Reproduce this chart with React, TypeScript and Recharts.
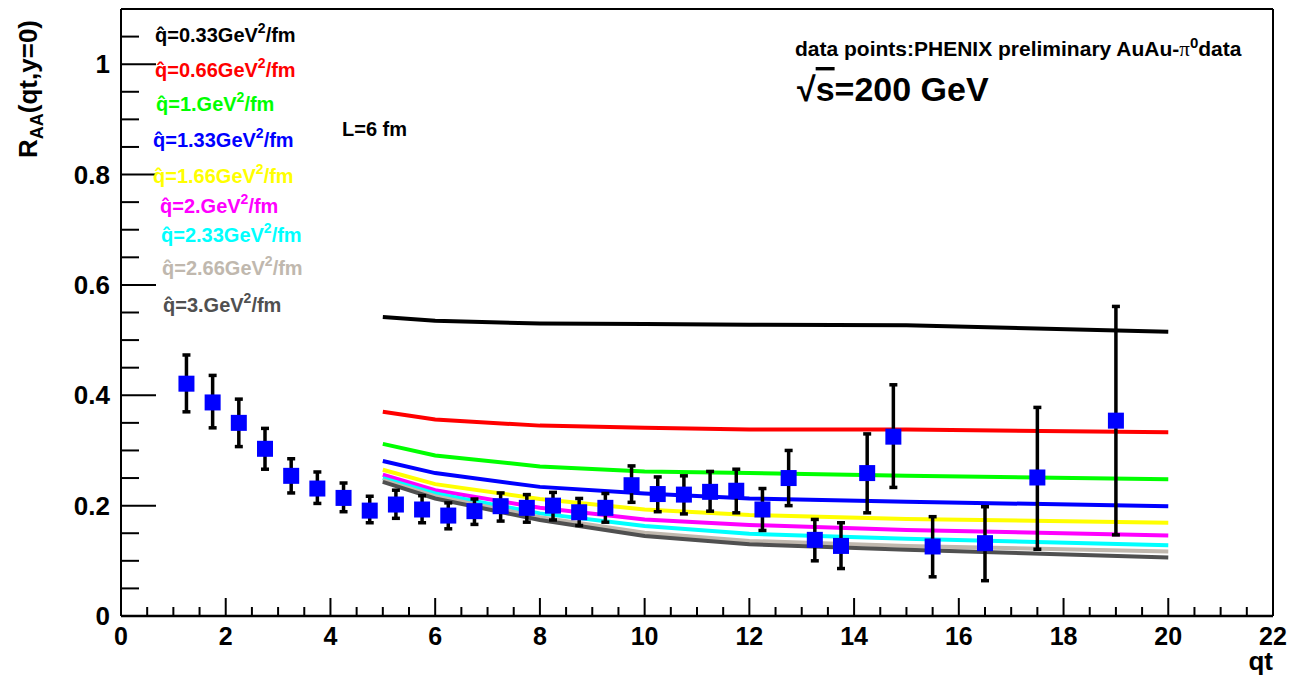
import React from "react";
import { ComposedChart, Line, Scatter, ErrorBar, XAxis, YAxis, ReferenceLine } from "recharts";

// PHENIX preliminary AuAu pi0 points
const ptQt = [1.25, 1.75, 2.25, 2.75, 3.25, 3.75, 4.25, 4.75, 5.25, 5.75, 6.25, 6.75, 7.25, 7.75, 8.25, 8.75, 9.25, 9.75, 10.25, 10.75, 11.25, 11.75, 12.25, 12.75, 13.25, 13.75, 14.25, 14.75, 15.5, 16.5, 17.5, 19];
const ptRaa = [0.421, 0.387, 0.35, 0.303, 0.254, 0.231, 0.214, 0.191, 0.202, 0.193, 0.182, 0.19, 0.199, 0.196, 0.2, 0.188, 0.196, 0.237, 0.221, 0.22, 0.225, 0.227, 0.193, 0.25, 0.138, 0.127, 0.259, 0.325, 0.126, 0.132, 0.251, 0.354];
const ptHi = [0.473, 0.436, 0.393, 0.34, 0.285, 0.261, 0.241, 0.217, 0.228, 0.218, 0.205, 0.212, 0.223, 0.22, 0.224, 0.213, 0.222, 0.272, 0.252, 0.254, 0.262, 0.266, 0.231, 0.3, 0.175, 0.169, 0.33, 0.419, 0.18, 0.198, 0.378, 0.561];
const ptLo = [0.37, 0.341, 0.307, 0.266, 0.223, 0.204, 0.189, 0.169, 0.177, 0.169, 0.158, 0.166, 0.172, 0.17, 0.174, 0.164, 0.17, 0.206, 0.189, 0.185, 0.19, 0.187, 0.155, 0.2, 0.1, 0.086, 0.187, 0.233, 0.071, 0.064, 0.121, 0.147];

// model curves, L = 6 fm
const curveQt = [5, 6, 8, 10, 12, 15, 20];
const q033 = [0.542, 0.535, 0.53, 0.529, 0.528, 0.527, 0.515];
const q066 = [0.37, 0.356, 0.345, 0.341, 0.338, 0.338, 0.333];
const q100 = [0.312, 0.291, 0.271, 0.262, 0.259, 0.254, 0.248];
const q133 = [0.281, 0.259, 0.234, 0.222, 0.213, 0.207, 0.199];
const q166 = [0.265, 0.239, 0.212, 0.193, 0.183, 0.176, 0.169];
const q200 = [0.256, 0.228, 0.196, 0.175, 0.165, 0.156, 0.146];
const q233 = [0.25, 0.222, 0.186, 0.163, 0.149, 0.14, 0.128];
const q266 = [0.246, 0.217, 0.179, 0.151, 0.136, 0.127, 0.117];
const q300 = [0.243, 0.213, 0.174, 0.145, 0.13, 0.12, 0.106];

const qhatLabels = ["0.33", "0.66", "1.", "1.33", "1.66", "2.", "2.33", "2.66", "3."];
const curveColors = ["#000000", "#ff0000", "#00ff00", "#0000ff", "#ffff00", "#ff00ff", "#00ffff", "#c0b8ae", "#505050"];
const curveValues = [q033, q066, q100, q133, q166, q200, q233, q266, q300];

const xLabels = [0, 2, 4, 6, 8, 10, 12, 14, 16, 18, 20, 22];
const yLabels = [0, 0.2, 0.4, 0.6, 0.8, 1];

// minor ticks: 4 divisions in x, 4 in y
const xTicks: number[] = [];
for (let i = 0; i <= 44; i++) xTicks.push(i / 2);
const yTicks: number[] = [];
for (let i = 0; i <= 21; i++) yTicks.push(Math.round(i * 5) / 100);

const points = ptQt.map((x, i) => ({ x, y: ptRaa[i], err: [ptRaa[i] - ptLo[i], ptHi[i] - ptRaa[i]] }));
const curves = curveValues.map((vals) => vals.map((y, i) => ({ x: curveQt[i], y })));

const FONT = "'Liberation Sans', Arial, Helvetica, sans-serif";

const XTick = (props: any) => {
  const { x, y, payload } = props;
  const major = xLabels.includes(payload.value);
  return (
    <g>
      <line x1={x} x2={x} y1={y} y2={y - (major ? 18 : 9)} stroke="#000" strokeWidth={2} />
      {major && (
        <text x={x} y={y + 29} textAnchor="middle" fontSize={25} fontWeight="bold" fontFamily={FONT} fill="#000">
          {payload.value}
        </text>
      )}
    </g>
  );
};

const YTick = (props: any) => {
  const { x, y, payload } = props;
  const v = payload.value;
  const major = yLabels.some((m) => Math.abs(m - v) < 1e-6);
  const label = v === 0 ? "0" : v === 1 ? "1" : v.toFixed(1);
  return (
    <g>
      <line x1={x} x2={x + (major ? 35 : 18)} y1={y} y2={y} stroke="#000" strokeWidth={2} />
      {major && (
        <text x={x - 11} y={y + 9} textAnchor="end" fontSize={26} fontWeight="bold" fontFamily={FONT} fill="#000">
          {label}
        </text>
      )}
    </g>
  );
};

const Square = (props: any) => {
  const { cx, cy } = props;
  return <rect x={cx - 8} y={cy - 8} width={16} height={16} fill="#0000ff" />;
};

const legendPos = [
  [155, 42], [155, 77], [156, 111], [153, 147], [153, 183],
  [160, 213], [161, 242], [162, 275], [163, 312],
];

export default function App() {
  return (
    <div style={{ position: "absolute", left: 0, top: 0, width: 1293, height: 681, background: "#fff" }}>
      <ComposedChart width={1293} height={681} margin={{ top: 9, right: 20, bottom: 0, left: 0 }}>
        <XAxis
          type="number"
          dataKey="x"
          domain={[0, 22]}
          ticks={xTicks}
          interval={0}
          tickSize={0}
          tickMargin={0}
          tick={<XTick />}
          tickLine={false}
          height={65}
          axisLine={{ stroke: "#000", strokeWidth: 2.5 }}
          allowDataOverflow
        />
        <YAxis
          type="number"
          dataKey="y"
          domain={[0, 1.1]}
          ticks={yTicks}
          interval={0}
          tickSize={0}
          tickMargin={0}
          tick={<YTick />}
          tickLine={false}
          width={121}
          axisLine={{ stroke: "#000", strokeWidth: 2 }}
          allowDataOverflow
        />
        <ReferenceLine y={1.1} stroke="#000" strokeWidth={2} />
        <ReferenceLine x={22} stroke="#000" strokeWidth={2} />
        {curves.map((d, i) => (
          <Line
            key={i}
            data={d}
            dataKey="y"
            type="linear"
            stroke={curveColors[i]}
            strokeWidth={4}
            dot={false}
            isAnimationActive={false}
          />
        ))}
        <Scatter data={points} dataKey="y" shape={<Square />} isAnimationActive={false}>
          <ErrorBar dataKey="err" direction="y" width={4} strokeWidth={3.5} stroke="#000" />
        </Scatter>
      </ComposedChart>
      <svg width={1293} height={681} style={{ position: "absolute", left: 0, top: 0, pointerEvents: "none" }}>
        <g fontFamily={FONT} fontWeight="bold">
          {qhatLabels.map((q, i) => (
            <text key={q} x={legendPos[i][0]} y={legendPos[i][1]} fontSize={20} fill={curveColors[i]}>
              <tspan>{"q\u0302=" + q + "GeV"}</tspan>
              <tspan dy={-9} fontSize={14}>2</tspan>
              <tspan dy={9}>/fm</tspan>
            </text>
          ))}
          <text x={342} y={136} fontSize={20} fill="#000">L=6 fm</text>
          <text x={795} y={56} fontSize={21} fill="#000">
            <tspan>data points:PHENIX preliminary AuAu-</tspan>
            <tspan fontFamily="'Liberation Serif', serif" fontWeight="normal">π</tspan>
            <tspan dy={-8} fontSize={15}>0</tspan>
            <tspan dy={8}>data</tspan>
          </text>
          <text x={797} y={101} fontSize={34} fill="#000">
            <tspan>√</tspan>
            <tspan style={{ textDecoration: "overline" }}>s</tspan>
            <tspan>=200 GeV</tspan>
          </text>
          <text x={1273} y={670} fontSize={26} textAnchor="end" fill="#000">qt</text>
          <text transform="translate(37, 20) rotate(-90)" fontSize={26} textAnchor="end" fill="#000">
            <tspan>R</tspan>
            <tspan dy={6} fontSize={18}>AA</tspan>
            <tspan dy={-6}>(qt,y=0)</tspan>
          </text>
        </g>
      </svg>
    </div>
  );
}
